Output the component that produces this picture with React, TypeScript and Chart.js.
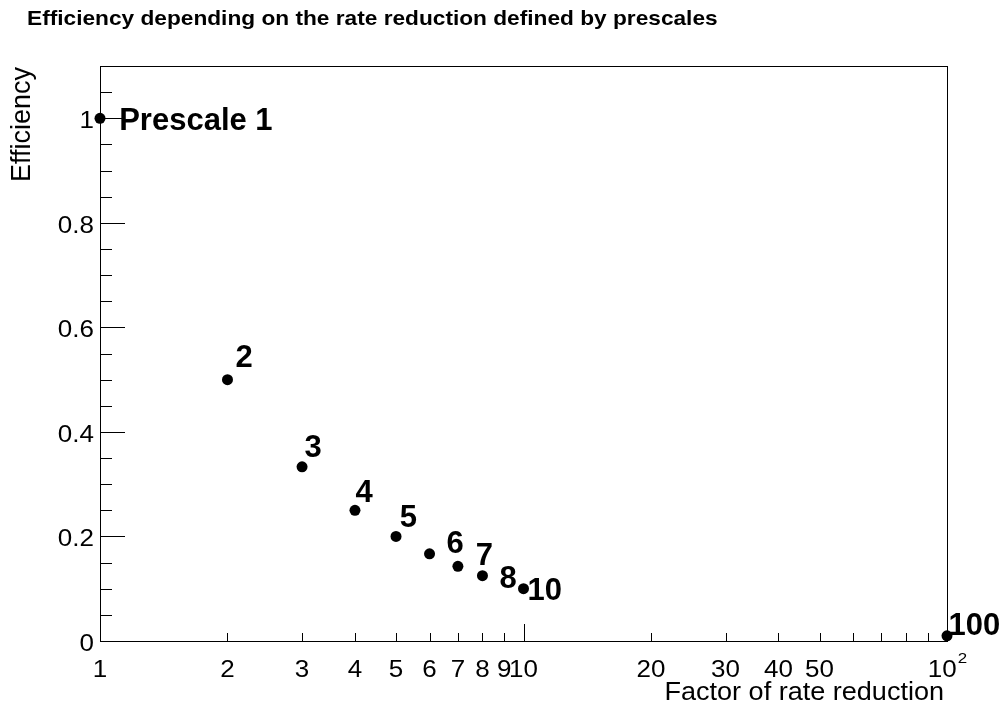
import React, { useEffect, useRef } from "react";
import { Chart, registerables } from "chart.js";

Chart.register(...registerables);

// ---- data ----
const rateFactors = [1, 2, 3, 4, 5, 6, 7, 8, 10, 100];
const efficiencies = [1, 0.5, 0.3333, 0.25, 0.2, 0.1667, 0.1429, 0.125, 0.1, 0.01];

// point annotations (text, anchor in data coordinates: left / baseline)
const noteTexts = ["Prescale 1", "2", "3", "4", "5", "6", "7", "8", "10", "100"];
const noteX = [1.11, 2.09, 3.04, 4.01, 5.1, 6.58, 7.71, 8.78, 10.22, 100.8];
const noteY = [0.977, 0.524, 0.352, 0.266, 0.218, 0.168, 0.145, 0.101, 0.078, 0.0115];

// axes
const xTickValues = [1, 2, 3, 4, 5, 6, 7, 8, 9, 10, 20, 30, 40, 50, 60, 70, 80, 90, 100];
const xTickLabels = ["1", "2", "3", "4", "5", "6", "7", "8", "9", "10", "20", "30", "40", "50", "", "", "", "", "10^2"];
const xMajorTicks = [10, 100];
const yTickValues = [0, 0.2, 0.4, 0.6, 0.8, 1];
const yTickLabels = ["0", "0.2", "0.4", "0.6", "0.8", "1"];
const yMinorTicks = [0.05, 0.1, 0.15, 0.25, 0.3, 0.35, 0.45, 0.5, 0.55, 0.65, 0.7, 0.75, 0.85, 0.9, 0.95, 1.05];

const titleText = "Efficiency depending on the rate reduction defined by prescales";
const xTitle = "Factor of rate reduction";
const yTitle = "Efficiency";

const FONT = "'Liberation Sans', Arial, Helvetica, sans-serif";
const LABEL_SX = 1.13;

function stretchedText(ctx: any, text: string, x: number, y: number, align: string, sx: number) {
  const w = ctx.measureText(text).width * sx;
  let left = x;
  if (align === "right") left = x - w;
  else if (align === "center") left = x - w / 2;
  ctx.save();
  ctx.translate(left, y);
  ctx.scale(sx, 1);
  ctx.textAlign = "left";
  ctx.fillText(text, 0, 0);
  ctx.restore();
  return w;
}

const decorPlugin = {
  id: "rootDecor",
  afterDraw(chart: any) {
    const { ctx, chartArea: a, scales } = chart;
    const xs = scales.x;
    const ys = scales.y;
    ctx.save();
    ctx.strokeStyle = "#000";
    ctx.fillStyle = "#000";
    ctx.lineWidth = 1;
    // frame
    ctx.strokeRect(Math.round(a.left) + 0.5, Math.round(a.top) + 0.5, Math.round(a.right - a.left), Math.round(a.bottom - a.top));
    // y ticks (inside)
    ctx.beginPath();
    ys.ticks.forEach((t: any) => {
      const py = Math.round(ys.getPixelForValue(t.value)) + 0.5;
      ctx.moveTo(a.left, py);
      ctx.lineTo(a.left + 25, py);
    });
    yMinorTicks.forEach((v) => {
      const py = Math.round(ys.getPixelForValue(v)) + 0.5;
      ctx.moveTo(a.left, py);
      ctx.lineTo(a.left + 12, py);
    });
    // x ticks (inside)
    xs.ticks.forEach((t: any) => {
      const px = Math.round(xs.getPixelForValue(t.value)) + 0.5;
      const len = xMajorTicks.includes(t.value) ? 17 : 8;
      ctx.moveTo(px, a.bottom);
      ctx.lineTo(px, a.bottom - len);
    });
    ctx.stroke();

    ctx.textBaseline = "alphabetic";

    // y tick labels
    ctx.font = `23px ${FONT}`;
    ys.ticks.forEach((t: any, i: number) => {
      const py = ys.getPixelForValue(t.value);
      stretchedText(ctx, yTickLabels[i], a.left - 6, py + 10, "right", LABEL_SX);
    });

    // x tick labels
    xs.ticks.forEach((t: any, i: number) => {
      const lab = xTickLabels[i];
      if (!lab) return;
      const px = xs.getPixelForValue(t.value);
      const baseY = a.bottom + 36;
      if (lab.includes("^")) {
        const [base, exp] = lab.split("^");
        ctx.font = `23px ${FONT}`;
        const wb = ctx.measureText(base).width * LABEL_SX;
        ctx.font = `15px ${FONT}`;
        const we = ctx.measureText(exp).width * LABEL_SX;
        const left = px - (wb + we) / 2;
        ctx.font = `23px ${FONT}`;
        stretchedText(ctx, base, left, baseY, "left", LABEL_SX);
        ctx.font = `15px ${FONT}`;
        stretchedText(ctx, exp, left + wb + 1, baseY - 14, "left", LABEL_SX);
      } else {
        ctx.font = `23px ${FONT}`;
        stretchedText(ctx, lab, px, baseY, "center", LABEL_SX);
      }
    });

    // title
    ctx.font = `bold 21px ${FONT}`;
    stretchedText(ctx, titleText, 27, 25, "left", 1.08);

    // x axis title
    ctx.font = `26px ${FONT}`;
    stretchedText(ctx, xTitle, a.right - 3, 700, "right", 1.04);

    // y axis title
    ctx.save();
    ctx.translate(30, a.top + 1);
    ctx.rotate(-Math.PI / 2);
    ctx.font = `27px ${FONT}`;
    ctx.textAlign = "right";
    ctx.fillText(yTitle, 0, 0);
    ctx.restore();

    // annotations
    ctx.font = `bold 31px ${FONT}`;
    ctx.textAlign = "left";
    noteTexts.forEach((t, i) => {
      ctx.fillText(t, xs.getPixelForValue(noteX[i]), ys.getPixelForValue(noteY[i]));
    });
    ctx.restore();
  },
};

export default function App() {
  const ref = useRef<HTMLCanvasElement | null>(null);
  useEffect(() => {
    if (!ref.current) return;
    const chart = new Chart(ref.current, {
      type: "scatter",
      data: {
        datasets: [
          {
            data: rateFactors.map((x, i) => ({ x, y: efficiencies[i] })),
            backgroundColor: "#000",
            borderColor: "#000",
            pointRadius: 5.5,
            pointHoverRadius: 5.5,
            borderWidth: 0,
            clip: false as any,
          },
        ],
      },
      options: {
        responsive: false,
        animation: false,
        devicePixelRatio: 1,
        layout: { padding: { left: 0, top: 66, right: 57, bottom: 0 } },
        plugins: { legend: { display: false }, tooltip: { enabled: false }, title: { display: false } },
        scales: {
          x: {
            type: "logarithmic",
            min: 1,
            max: 100,
            grid: { display: false, drawTicks: false },
            border: { display: false },
            afterBuildTicks: (s: any) => {
              s.ticks = xTickValues.map((v) => ({ value: v }));
            },
            afterFit: (s: any) => {
              s.height = 64;
            },
            ticks: { display: false, autoSkip: false },
          },
          y: {
            type: "linear",
            min: 0,
            max: 1.1,
            grid: { display: false, drawTicks: false },
            border: { display: false },
            afterBuildTicks: (s: any) => {
              s.ticks = yTickValues.map((v) => ({ value: v }));
            },
            afterFit: (s: any) => {
              s.width = 100;
            },
            ticks: { display: false, autoSkip: false },
          },
        },
      },
      plugins: [decorPlugin],
    });
    return () => chart.destroy();
  }, []);
  return (
    <div style={{ position: "absolute", left: 0, top: 0, width: 1004, height: 705, background: "#fff" }}>
      <canvas ref={ref} width={1004} height={705} style={{ width: 1004, height: 705, display: "block" }} />
    </div>
  );
}
